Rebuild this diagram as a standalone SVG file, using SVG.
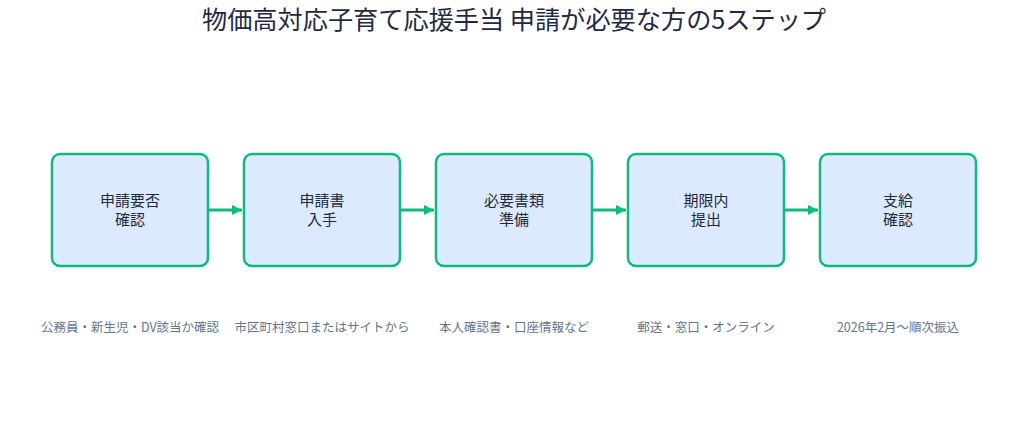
<svg xmlns="http://www.w3.org/2000/svg" width="1027" height="432" viewBox="0 0 1027 432">
<defs>
<style>
.box{fill:#dbeafe;stroke:#10b981;stroke-width:2.5}
.lbl{font-family:"Noto Sans CJK JP","Noto Sans",sans-serif;font-size:15px;fill:#1e293b;text-anchor:middle}
.cap{font-family:"Noto Sans CJK JP","Noto Sans",sans-serif;font-size:12.5px;fill:#64748b;text-anchor:middle}
.title{font-family:"Noto Sans CJK JP","Noto Sans",sans-serif;font-size:25.2px;fill:#1e2a45;text-anchor:middle}
.conn{stroke:#10b981;stroke-width:3;fill:none}
</style>
<marker id="ah" markerWidth="10" markerHeight="10" refX="10" refY="5" orient="auto" markerUnits="userSpaceOnUse">
<path d="M0,0 L10,5 L0,10 Z" fill="#10b981"/>
</marker>
</defs>
<rect width="1027" height="432" fill="#ffffff"/>
<text class="title" x="514" y="29">物価高対応子育て応援手当 申請が必要な方の5ステップ</text>
<g id="connectors">
<line class="conn" x1="209" y1="210" x2="242" y2="210" marker-end="url(#ah)"/>
<line class="conn" x1="401" y1="210" x2="434" y2="210" marker-end="url(#ah)"/>
<line class="conn" x1="593" y1="210" x2="626" y2="210" marker-end="url(#ah)"/>
<line class="conn" x1="785" y1="210" x2="818" y2="210" marker-end="url(#ah)"/>
</g>
<g id="step1">
<rect class="box" x="52" y="154" width="156" height="112" rx="8"/>
<text class="lbl" x="130" y="205.5">申請要否</text>
<text class="lbl" x="130" y="224.5">確認</text>
<text class="cap" x="130" y="332">公務員・新生児・DV該当か確認</text>
</g>
<g id="step2">
<rect class="box" x="244" y="154" width="156" height="112" rx="8"/>
<text class="lbl" x="322" y="205.5">申請書</text>
<text class="lbl" x="322" y="224.5">入手</text>
<text class="cap" x="322" y="332">市区町村窓口またはサイトから</text>
</g>
<g id="step3">
<rect class="box" x="436" y="154" width="156" height="112" rx="8"/>
<text class="lbl" x="514" y="205.5">必要書類</text>
<text class="lbl" x="514" y="224.5">準備</text>
<text class="cap" x="514" y="332">本人確認書・口座情報など</text>
</g>
<g id="step4">
<rect class="box" x="628" y="154" width="156" height="112" rx="8"/>
<text class="lbl" x="706" y="205.5">期限内</text>
<text class="lbl" x="706" y="224.5">提出</text>
<text class="cap" x="706" y="332">郵送・窓口・オンライン</text>
</g>
<g id="step5">
<rect class="box" x="820" y="154" width="156" height="112" rx="8"/>
<text class="lbl" x="898" y="205.5">支給</text>
<text class="lbl" x="898" y="224.5">確認</text>
<text class="cap" x="898" y="332">2026年2月～順次振込</text>
</g>
</svg>
